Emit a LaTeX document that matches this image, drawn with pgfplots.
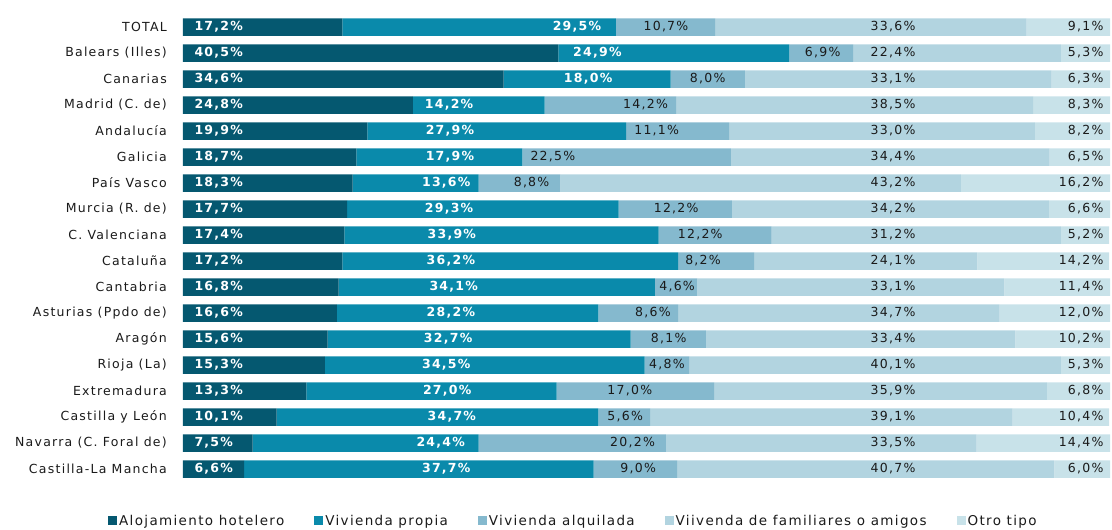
\documentclass[border=0pt]{standalone}
\usepackage{fontspec}
\setmainfont{DejaVu Sans}[LetterSpace=10]
\usepackage{pgfplots}
\usepackage{pgfplotstable}
\pgfplotsset{compat=1.18}
\definecolor{cA}{HTML}{055870}
\definecolor{cB}{HTML}{0A8AAB}
\definecolor{cC}{HTML}{85B9CE}
\definecolor{cD}{HTML}{B2D4E0}
\definecolor{cE}{HTML}{C8E2E9}
\definecolor{txt}{HTML}{1A1A1A}
\pgfplotstableread{
y a b c d e lb lc
0 17.2 29.5 10.7 33.6 9.1 42.5 52.1
1 40.5 24.9 6.9 22.4 5.3 44.7 69.0
2 34.6 18.0 8.0 33.1 6.3 43.7 56.6
3 24.8 14.2 14.2 38.5 8.3 28.7 49.9
4 19.9 27.9 11.1 33.0 8.2 28.8 51.1
5 18.7 17.9 22.5 34.4 6.5 28.8 39.9
6 18.3 13.6 8.8 43.2 16.2 28.4 37.6
7 17.7 29.3 12.2 34.2 6.6 28.7 53.2
8 17.4 33.9 12.2 31.2 5.2 29.0 55.8
9 17.2 36.2 8.2 24.1 14.2 28.9 56.1
10 16.8 34.1 4.6 33.1 11.4 29.2 53.3
11 16.6 28.2 8.6 34.7 12.0 28.9 50.7
12 15.6 32.7 8.1 33.4 10.2 28.6 52.4
13 15.3 34.5 4.8 40.1 5.3 28.4 52.2
14 13.3 27.0 17.0 35.9 6.8 28.5 48.2
15 10.1 34.7 5.6 39.1 10.4 29.0 47.7
16 7.5 24.4 20.2 33.5 14.4 27.8 48.5
17 6.6 37.7 9.0 40.7 6.0 28.4 49.1
}\data
\newcommand{\lblfont}{\fontsize{12.5}{13}\selectfont}
\newcommand{\legfont}{\fontsize{13.5}{14}\selectfont}
\pgfplotsset{
  common/.style={
    scale only axis,
    width=927pt, height=468pt,
    xmin=0, xmax=100,
    ymin=-0.5, ymax=17.5,
    enlargelimits=false,
    y dir=reverse,
  },
}
\begin{document}
\begin{tikzpicture}
\begin{axis}[
  common,
  xbar stacked,
  bar width=17.5pt,
  axis line style={draw=none},
  major tick length=0pt,
  xtick=\empty,
  ytick={0,...,17},
  yticklabels={TOTAL, Balears (Illes), Canarias, Madrid (C. de), Andalucía, Galicia, País Vasco, Murcia (R. de), C. Valenciana, Cataluña, Cantabria, Asturias (Ppdo de), Aragón, Rioja (La), Extremadura, Castilla y León, Navarra (C. Foral de), Castilla-La Mancha},
  yticklabel style={font=\lblfont, color=txt, inner sep=0pt, xshift=-16pt},
  legend columns=5,
  legend style={draw=none, fill=none, font=\legfont, text=txt,
    at={(axis description cs:-0.081,-0.0833)}, anchor=west,
    /tikz/every even column/.append style={column sep=28pt},
    inner sep=0pt, nodes={inner sep=2pt}},
  legend image code/.code={\fill[#1] (0pt,-4.5pt) rectangle (9pt,4.5pt);},
]
\addplot[fill=cA, draw=none] table[x=a, y=y] {\data};
\addlegendentry{Alojamiento hotelero}
\addplot[fill=cB, draw=none] table[x=b, y=y] {\data};
\addlegendentry{Vivienda propia}
\addplot[fill=cC, draw=none] table[x=c, y=y] {\data};
\addlegendentry{Vivienda alquilada}
\addplot[fill=cD, draw=none] table[x=d, y=y] {\data};
\addlegendentry{Viivenda de familiares o amigos}
\addplot[fill=cE, draw=none] table[x=e, y=y] {\data};
\addlegendentry{Otro tipo}
\coordinate (SW) at (axis description cs:0,0);
\end{axis}
\begin{axis}[
  common,
  hide axis,
  /pgf/number format/assume math mode=true,
  nodes near coords={\pgfmathprintnumber[fixed,fixed zerofill,precision=1,use comma]{\pgfplotspointmeta}\%},
]
\addplot[draw=none, point meta=\thisrow{a},
  every node near coord/.style={font=\lblfont\bfseries, text=white, anchor=west, xshift=8pt}]
  table[x expr=0, y=y] {\data};
\addplot[draw=none, point meta=\thisrow{b},
  every node near coord/.style={font=\lblfont\bfseries, text=white, anchor=center}]
  table[x=lb, y=y] {\data};
\addplot[draw=none, point meta=\thisrow{c},
  every node near coord/.style={font=\lblfont, text=txt, anchor=center}]
  table[x=lc, y=y] {\data};
\addplot[draw=none, point meta=\thisrow{d},
  every node near coord/.style={font=\lblfont, text=txt, anchor=center}]
  table[x expr=76.6, y=y] {\data};
\addplot[draw=none, point meta=\thisrow{e},
  every node near coord/.style={font=\lblfont, text=txt, anchor=east, xshift=-3pt}]
  table[x expr=100, y=y] {\data};
\end{axis}
\pgfresetboundingbox
\path (SW) ++(-183pt,-48pt) rectangle ++(1112pt,530pt);
\end{tikzpicture}
\end{document}
